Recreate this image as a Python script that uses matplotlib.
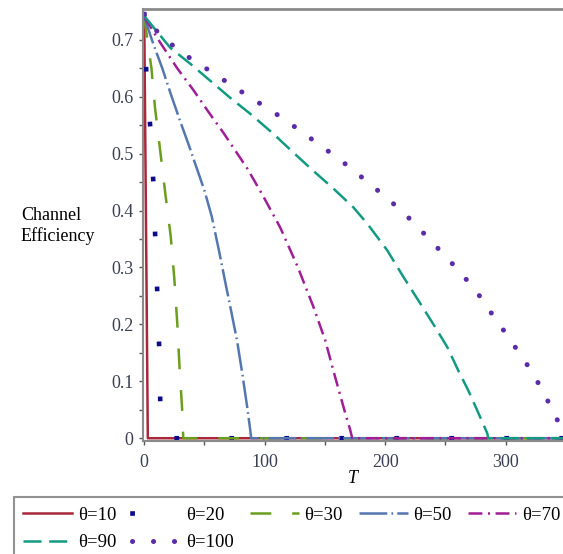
import matplotlib
matplotlib.use('Agg')
import matplotlib.pyplot as plt

# values
T10 = [0, 1, 2, 3, 350]
E10 = [0.745, 0.50, 0.25, 0.0, 0.0]

T20 = [0, 1.7, 5.0, 7.5, 9.1, 10.8, 12.4, 13.3, 14, 350]
E20 = [0.745, 0.644, 0.547, 0.453, 0.356, 0.258, 0.161, 0.065, 0.0, 0.0]

T30 = [0, 6, 9, 13, 17.5, 22, 25, 27.5, 29.3, 31.5, 32.4, 350]
E30 = [0.740, 0.650, 0.580, 0.510, 0.430, 0.355, 0.280, 0.200, 0.125, 0.050, 0.0, 0.0]

T50 = [0, 7.5, 15, 22, 30, 37, 44, 50, 56, 62, 67, 72, 77, 81.5, 85.5, 88, 88.8, 350]
E50 = [0.740, 0.693, 0.650, 0.605, 0.556, 0.515, 0.472, 0.435, 0.390, 0.330, 0.277,
       0.225, 0.172, 0.112, 0.054, 0.014, 0.0, 0.0]

T70 = [0, 13.3, 27.4, 40.7, 53.1, 65.6, 85.5, 98.8, 112.9, 127.0, 140.2, 150.2,
       158.5, 166.8, 171.0, 172.6, 350]
E70 = [0.740, 0.695, 0.650, 0.612, 0.574, 0.537, 0.474, 0.425, 0.370, 0.303, 0.232,
       0.172, 0.107, 0.044, 0.014, 0.0, 0.0]

T90 = [0, 21.6, 38.2, 54.8, 71.4, 88.0, 107.1, 123.7, 140.2, 156.8, 173.4, 185.1,
       201.7, 214.9, 229.0, 241.5, 251.5, 260.6, 268.9, 276.3, 284.6, 285.5, 350]
E90 = [0.742, 0.686, 0.658, 0.628, 0.598, 0.570, 0.535, 0.502, 0.470, 0.439, 0.406,
       0.377, 0.330, 0.284, 0.237, 0.195, 0.160, 0.119, 0.084, 0.049, 0.009, 0.0, 0.0]

T100 = [0, 11.6, 24.9, 39.8, 55.6, 70.5, 87.1, 102.9, 117.8, 132.8, 147.7, 162.7,
        176.8, 191.7, 205.8, 219.1, 231.5, 244.0, 256.4, 268.9, 280.5, 290.5, 301.2,
        312.0, 322.0, 331.1, 339.4, 346.9, 352]
E100 = [0.745, 0.712, 0.688, 0.665, 0.644, 0.623, 0.600, 0.579, 0.558, 0.535, 0.512,
        0.489, 0.465, 0.439, 0.414, 0.388, 0.361, 0.333, 0.305, 0.275, 0.244, 0.212,
        0.181, 0.147, 0.116, 0.081, 0.047, 0.014, 0.0]

labels = ['θ=10', 'θ=20', 'θ=30', 'θ=50', 'θ=70', 'θ=90', 'θ=100']

plt.rcParams['font.family'] = 'Liberation Serif'
plt.rcParams['lines.scale_dashes'] = False

fig = plt.figure(figsize=(5.63, 5.54), dpi=100)
ax = fig.add_axes([143 / 563, 113.5 / 554, 420 / 563, 432 / 554])

lw = 1.8
h10, = ax.plot(T10, E10, color='#a8283a', lw=lw, label=labels[0])
h20, = ax.plot(T20, E20, color='#0a0a8a', lw=3.3, ls=(0, (0.1, 39.5)),
               dash_capstyle='projecting', label=labels[1])
h30, = ax.plot(T30, E30, color='#6b9e1f', lw=lw, ls=(0, (15, 15)), label=labels[2])
h50, = ax.plot(T50, E50, color='#5577b0', lw=lw, ls=(0, (20, 3, 1.2, 3)), label=labels[3])
h70, = ax.plot(T70, E70, color='#a01e95', lw=lw, ls=(0, (10, 4, 1.5, 4)), label=labels[4])
h90, = ax.plot(T90, E90, color='#129a82', lw=lw, ls=(0, (13, 5.5)), label=labels[5])
h100, = ax.plot(T100, E100, color='#5a2ca8', lw=3.6, ls=(0, (0.1, 15)),
                dash_capstyle='round', label=labels[6])

ax.set_xlim(-1, 347.5)
ax.set_ylim(-0.004, 0.755)
ax.set_xticks([0, 100, 200, 300])
ax.set_xticks([50, 150, 250], minor=True)
ax.set_yticks([0, 0.1, 0.2, 0.3, 0.4, 0.5, 0.6, 0.7])
ax.set_yticklabels(['0', '0.1', '0.2', '0.3', '0.4', '0.5', '0.6', '0.7'])
ax.set_yticks([0.05, 0.15, 0.25, 0.35, 0.45, 0.55, 0.65], minor=True)
ax.tick_params(which='both', direction='out', length=3, width=1, colors='#555555',
               labelsize=13, labelcolor='#3a3f55')
ax.tick_params(axis='x', pad=7)
ax.tick_params(axis='y', pad=4)

for side in ['top', 'left', 'bottom']:
    ax.spines[side].set_color('#8a8a8a')
ax.spines['top'].set_linewidth(2)
ax.spines['left'].set_linewidth(1.5)
ax.spines['bottom'].set_linewidth(1.5)
ax.spines['right'].set_visible(False)

ax.set_xlabel('T', fontstyle='italic', fontsize=13, labelpad=-1)
fig.text(21 / 563, 1 - 226 / 554, 'Channel\nEfficiency', fontsize=13,
         ha='left', va='center', linespacing=1.25)

# legend is filled column by column, so order handles to read row by row
order = [h10, h90, h20, h100, h30, h50, h70]
leg = fig.legend(handles=order, labels=[h.get_label() for h in order],
                 loc='upper left', bbox_to_anchor=(14 / 563, 1 - 497 / 554),
                 ncol=5, fontsize=13.5, frameon=True, fancybox=False,
                 handlelength=2.6, handletextpad=0.3, columnspacing=0.85,
                 borderaxespad=0, borderpad=0.5, labelspacing=0.57)
leg.get_frame().set_edgecolor('#777777')
leg.get_frame().set_linewidth(1.5)

fig.savefig('out.png', dpi=100)
